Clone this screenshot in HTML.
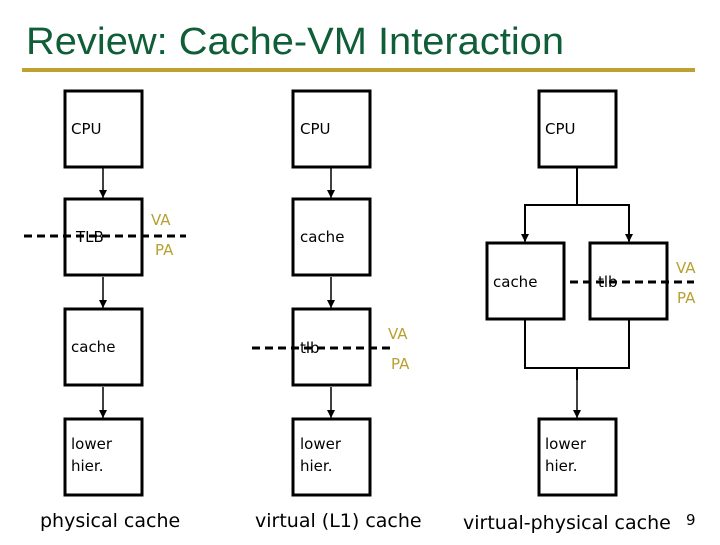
<!DOCTYPE html>
<html><head><meta charset="utf-8"><style>
body{margin:0;background:#fff;width:720px;height:540px;overflow:hidden}
</style></head><body>
<svg width="720" height="540" xmlns="http://www.w3.org/2000/svg" font-family="DejaVu Sans, Liberation Sans, sans-serif">
<defs><marker id="a" markerWidth="8" markerHeight="8" refX="8" refY="4" orient="auto" markerUnits="userSpaceOnUse"><path d="M0,0 L8,4 L0,8 z" fill="#000"/></marker></defs>
<text x="26" y="54" font-family="Liberation Sans, sans-serif" font-size="38" fill="#0f5e37" textLength="538" lengthAdjust="spacingAndGlyphs">Review: Cache-VM Interaction</text>
<rect x="22" y="68" width="673" height="4" fill="#c0a030"/>
<g fill="none" stroke="#000" stroke-width="3">
<rect x="65" y="91" width="77" height="76"/><rect x="65" y="199" width="77" height="76"/><rect x="65" y="309" width="77" height="76"/><rect x="65" y="419" width="77" height="76"/>
<rect x="293" y="91" width="77" height="76"/><rect x="293" y="199" width="77" height="76"/><rect x="293" y="309" width="77" height="76"/><rect x="293" y="419" width="77" height="76"/>
<rect x="539" y="91" width="77" height="76"/><rect x="487" y="243" width="77" height="76"/><rect x="590" y="243" width="77" height="76"/><rect x="539" y="419" width="77" height="76"/>
</g>
<g stroke="#000" stroke-width="1.5" fill="none">
<line x1="103" y1="168" x2="103" y2="198" marker-end="url(#a)"/>
<line x1="103" y1="277" x2="103" y2="308" marker-end="url(#a)"/>
<line x1="103" y1="387" x2="103" y2="418" marker-end="url(#a)"/>
<line x1="331" y1="168" x2="331" y2="198" marker-end="url(#a)"/>
<line x1="331" y1="277" x2="331" y2="308" marker-end="url(#a)"/>
<line x1="331" y1="387" x2="331" y2="418" marker-end="url(#a)"/>
<path d="M577,168 V205 M525,241 V205 H629 V241" stroke-width="2"/>
<line x1="525" y1="205" x2="525" y2="242" marker-end="url(#a)"/>
<line x1="629" y1="205" x2="629" y2="242" marker-end="url(#a)"/>
<path d="M525,320 V368 H629 V320 M577,368 V380" stroke-width="2"/>
<line x1="577" y1="368" x2="577" y2="418" marker-end="url(#a)"/>
</g>
<g stroke="#000" stroke-width="3" stroke-dasharray="8,5">
<line x1="24" y1="236" x2="186" y2="236"/>
<line x1="252" y1="348" x2="390" y2="348"/>
<line x1="570" y1="282" x2="694" y2="282"/>
</g>
<g font-size="15" fill="#000">
<text x="71" y="134">CPU</text><text x="76" y="242">TLB</text><text x="71" y="352">cache</text><text x="71" y="449">lower</text><text x="71" y="471">hier.</text>
<text x="300" y="134">CPU</text><text x="300" y="242">cache</text><text x="300" y="353">tlb</text><text x="300" y="449">lower</text><text x="300" y="471">hier.</text>
<text x="545" y="134">CPU</text><text x="493" y="287">cache</text><text x="598" y="287">tlb</text><text x="545" y="449">lower</text><text x="545" y="471">hier.</text>
</g>
<g font-size="15" fill="#b8a030">
<text x="151" y="225">VA</text><text x="155" y="255">PA</text>
<text x="388" y="339">VA</text><text x="391" y="369">PA</text>
<text x="676" y="273">VA</text><text x="677" y="303">PA</text>
</g>
<g font-size="19" fill="#000">
<text x="40" y="527">physical cache</text>
<text x="255" y="527">virtual (L1) cache</text>
<text x="463" y="529">virtual-physical cache</text>
<text x="686" y="525" font-size="15">9</text>
</g>
</svg>
</body></html>
